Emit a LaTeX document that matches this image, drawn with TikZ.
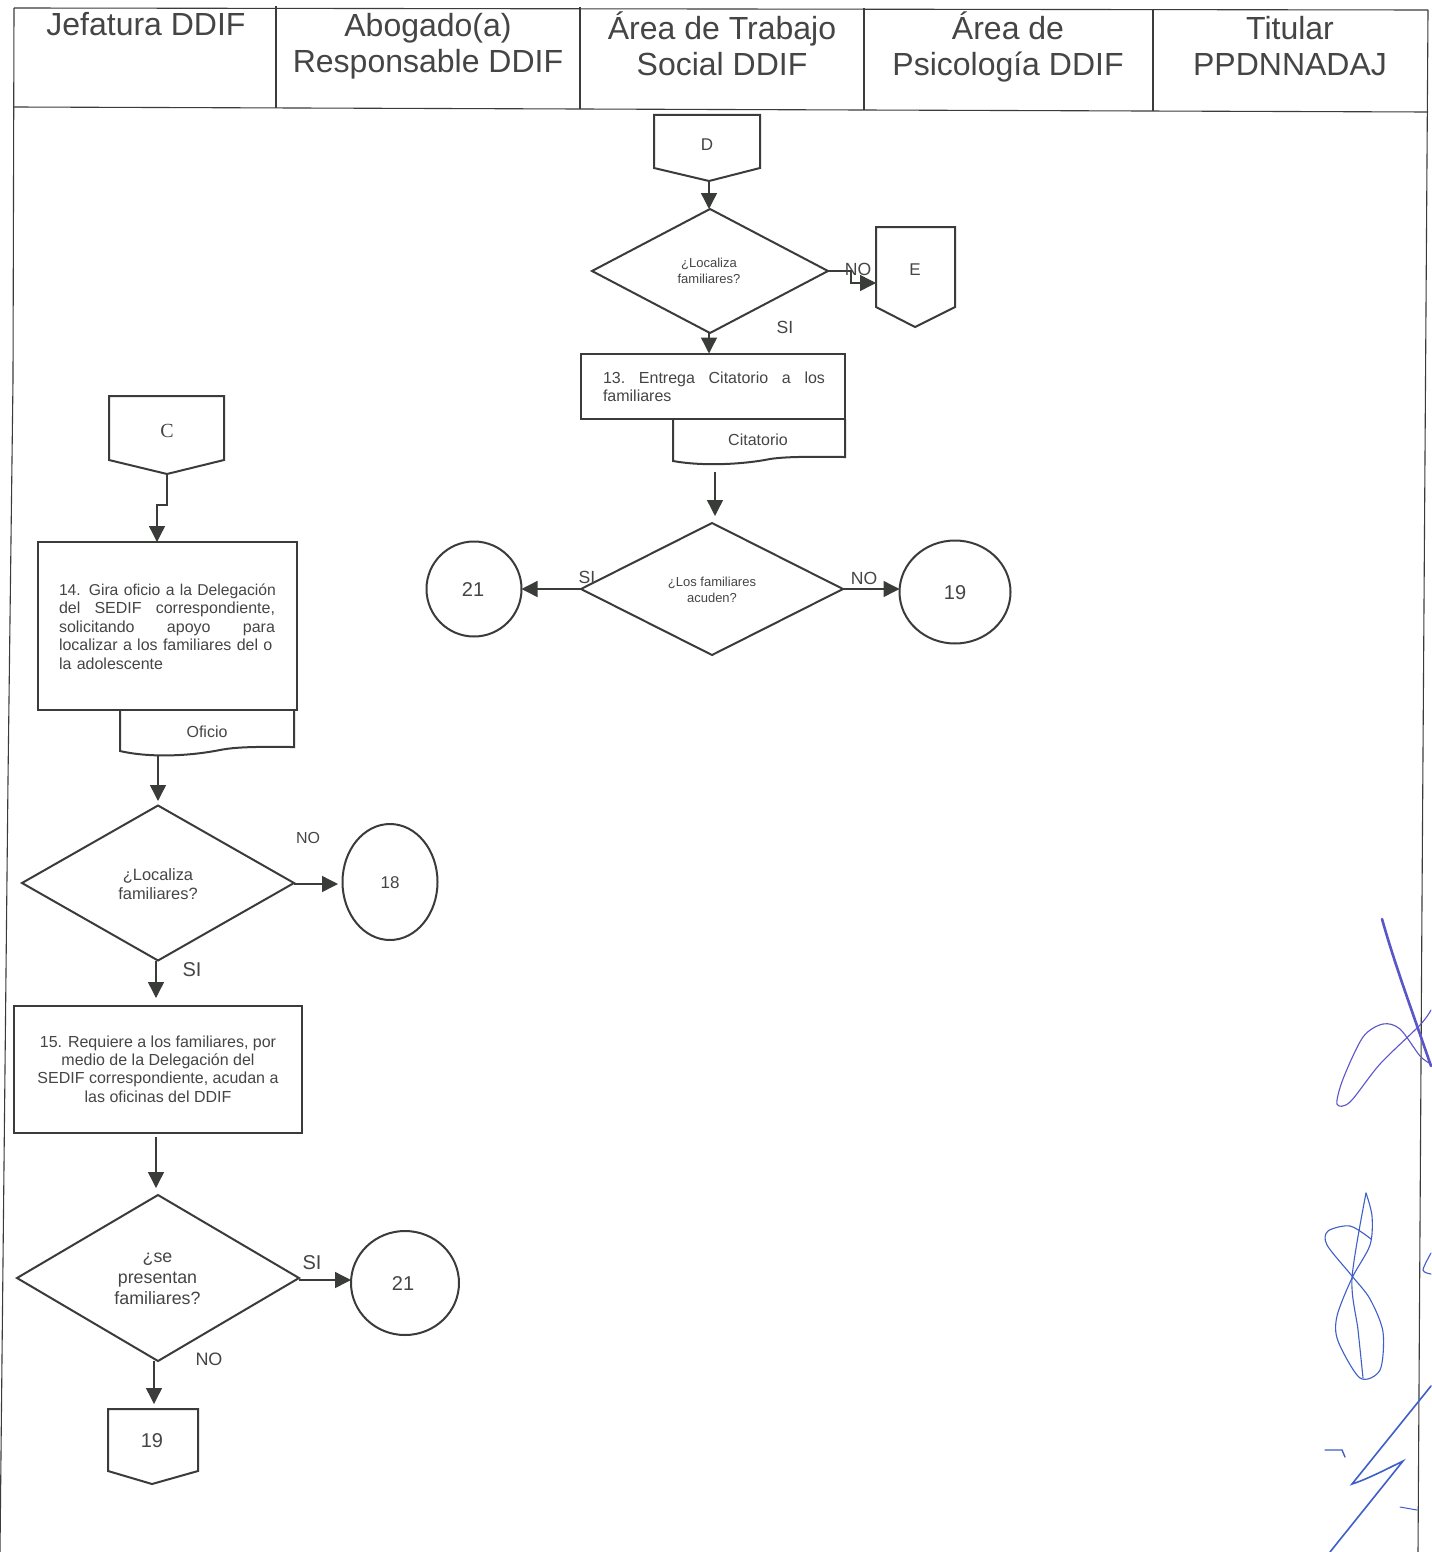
\documentclass[tikz,border=0pt]{standalone}
\usepackage{fontspec}
\setmainfont{Liberation Sans}
\newfontfamily\serifc{Liberation Serif}
\usetikzlibrary{shapes.geometric,arrows.meta}
\definecolor{ink}{HTML}{3A3C3A}
\definecolor{txt}{HTML}{454545}
\definecolor{pen}{HTML}{5A55C8}
\definecolor{penb}{HTML}{3F5FC8}
\tikzset{x=0.5pt,y=-0.5pt,
 every node/.style={text=txt,inner sep=0pt,outer sep=0pt},
 grid/.style={draw=ink,line width=0.55pt},
 shapeline/.style={draw=ink,line width=1pt},
 flow/.style={draw=ink,line width=0.7pt,-{Triangle[length=8pt,width=8pt]}},
 head/.style={font=\fontsize{16}{18}\selectfont,align=center},
 dec/.style={shape=diamond,draw=ink,line width=1pt,align=center,aspect=1},
 small/.style={font=\fontsize{6.5}{7.8}\selectfont,align=center},
 mid/.style={font=\fontsize{8}{9.2}\selectfont,align=center},
 lab/.style={font=\fontsize{8.8}{10}\selectfont},
 num/.style={font=\fontsize{10}{12}\selectfont},
 sig/.style={draw=pen,line width=0.55pt,line cap=round},
 sigb/.style={draw=penb,line width=0.8pt,line cap=round},
}
\newcommand{\dia}[4]{\node[dec,minimum width=#3*0.5pt,minimum height=#4*0.5pt] (#1) at (#2) {};}
\begin{document}
\begin{tikzpicture}
\useasboundingbox (0,0) rectangle (1431,1552);
\fill[white] (0,0) rectangle (1431,1552);
% table
\draw[grid] (14,8) -- (1428,10);
\draw[grid] (14,107) -- (1428,112);
\draw[grid] (14,8) -- (13,380) -- (8,780) -- (0,1552);
\draw[grid] (1428,10) -- (1422,900) -- (1418,1552);
\draw[grid] (276,6) -- (276,108);
\draw[grid] (580,7) -- (580,109);
\draw[grid] (864,8) -- (864,110);
\draw[grid] (1153,9) -- (1153,111);
% header
\node[head] (h1) at (146,24) {Jefatura DDIF};
\node[head] (h2) at (428,46) {Abogado(a)\\Responsable DDIF};
\node[head] (h3) at (722,44) {Área de Trabajo\\Social DDIF};
\node[head] (h4) at (1008,47) {Área de\\Psicología DDIF};
\node[head] (h5) at (1290,46) {Titular\\PPDNNADAJ};
% D
\draw[shapeline] (654,115) -- (760,115) -- (760,168) -- (709,181) -- (654,168) -- cycle;
\coordinate (dtip) at (709,181);
\node[font=\fontsize{8.5}{10}\selectfont] (dl) at (707,145) {D};
\dia{d1}{710,271}{236}{124}
\node[small] (d1t) at (709,271) {¿Localiza\\familiares?};
\draw[flow] (dtip) -- (dtip |- d1.north);
% E
\draw[shapeline] (876,227) -- (955,227) -- (955,307) -- (915,327) -- (876,307) -- cycle;
\coordinate (ein) at (876,283);
\node[font=\fontsize{8.5}{10}\selectfont] (el) at (915,270) {E};
\coordinate (nb1) at (851,271);
\coordinate (nb2) at (851,283);
\draw[flow] (d1.east) -- (nb1) -- (nb2) -- (ein);
\node[lab] (no1) at (858,269) {NO};
\node[lab] (si1) at (785,327) {SI};
% 13
\node[shapeline,minimum width=264*0.5pt,minimum height=65*0.5pt] (b13) at (713,386) {};
\node[font=\fontsize{8}{9.2}\selectfont,text width=111pt,align=left] (b13t) at (714,387) {13.\hfill Entrega\hfill Citatorio\hfill a\hfill los\\familiares};
\draw[flow] (dtip |- d1.south) -- (dtip |- b13.north);
% Citatorio doc
\draw[shapeline] (673,419) -- (673,461) .. controls (700,466) and (740,465) .. (770,459) .. controls (790,456) and (820,457) .. (845,457) -- (845,419);
\node[mid] (citt) at (758,440) {Citatorio};
\coordinate (cit) at (715,472);
\coordinate (d2in) at (715,516);
\dia{d2}{712,589}{262}{132}
\node[small] (d2t) at (712,590) {¿Los familiares\\acuden?};
\draw[flow] (cit) -- (d2in);
\node[shapeline,circle,minimum size=95*0.5pt] (c21a) at (474,589) {};
\node[num] (c21at) at (473,590) {21};
\node[shapeline,ellipse,minimum width=111*0.5pt,minimum height=103*0.5pt] (c19) at (955,592) {};
\node[num] (c19t) at (955,593) {19};
\draw[flow] (d2.west) -- (c21a);
\draw[flow] (d2.east) -- (c19.west |- d2.east);
\node[lab] (si2) at (587,577) {SI};
\node[lab] (no2) at (864,578) {NO};
% C
\draw[shapeline] (109,396) -- (224,396) -- (224,460) -- (167,474) -- (109,460) -- cycle;
\coordinate (ctip) at (167,474);
\node[font=\fontsize{10}{12}\selectfont\serifc] (cl) at (167,431) {C};
% 14
\node[shapeline,minimum width=259*0.5pt,minimum height=168*0.5pt] (b14) at (167,626) {};
\node[font=\fontsize{8}{9.2}\selectfont,text width=108pt,align=left] (b14t) at (167,626.5) {\mbox{\fontsize{7.85}{9.2}\selectfont 14. Gira oficio a la Delegación}\\del\hfill SEDIF\hfill correspondiente,\\solicitando\hfill apoyo\hfill para\\localizar a los familiares del o\\la adolescente};
\coordinate (cb1) at (167,505);
\coordinate (cb2) at (157,505);
\draw[flow] (ctip) -- (cb1) -- (cb2) -- (b14.north -| cb2);
% Oficio doc
\draw[shapeline] (120,711) -- (120,751) .. controls (150,758) and (190,756) .. (220,750) .. controls (240,746) and (270,747) .. (294,747) -- (294,711);
\node[mid] (oft) at (207,732) {Oficio};
\coordinate (of) at (158,756);
\coordinate (d3in) at (158,801);
\dia{d3}{158,883}{272}{155}
\node[mid,font=\fontsize{8.2}{9.6}\selectfont] (d3t) at (158,884) {¿Localiza\\familiares?};
\draw[flow] (of) -- (d3in);
\node[shapeline,ellipse,minimum width=95*0.5pt,minimum height=116*0.5pt] (c18) at (390,882) {};
\node[font=\fontsize{8.5}{10}\selectfont] (c18t) at (390,883) {18};
\coordinate (c18in) at (338,884);
\draw[flow] (d3.east |- c18in) -- (c18in);
\node[mid] (no3) at (308,838) {NO};
\node[font=\fontsize{10}{12}\selectfont] (si3) at (192,970) {SI};
% 15
\node[shapeline,minimum width=288*0.5pt,minimum height=127*0.5pt] (b15) at (157.5,1069) {};
\node[mid] (b15t) at (158,1069) {15. Requiere a los familiares, por\\medio de la Delegación del\\SEDIF correspondiente, acudan a\\las oficinas del DDIF};
\coordinate (b15in) at (156,998);
\draw[flow] (d3.south -| b15in) -- (b15in);
\coordinate (b15o) at (156,1137);
\coordinate (d4in) at (156,1188);
\dia{d4}{158,1278}{282}{166}
\node[font=\fontsize{8.9}{10.6}\selectfont,align=center] (d4t) at (157.5,1279) {¿se\\presentan\\familiares?};
\draw[flow] (b15o) -- (d4in);
\node[shapeline,ellipse,minimum width=108*0.5pt,minimum height=104*0.5pt] (c21b) at (405,1283) {};
\node[num] (c21bt) at (403,1284) {21};
\coordinate (c21in) at (351,1280);
\draw[flow] (d4.east |- c21in) -- (c21in);
\node[font=\fontsize{10}{12}\selectfont] (si4) at (312,1263) {SI};
\node[font=\fontsize{9}{10}\selectfont] (no4) at (209,1359) {NO};
% 19 connector
\draw[shapeline] (108,1409) -- (198,1409) -- (198,1471) -- (152,1484) -- (108,1471) -- cycle;
\coordinate (t19) at (154,1404);
\node[num] (l19) at (152,1441) {19};
\draw[flow] (d4.south -| t19) -- (t19);
% signatures
\draw[pen,line width=1.3pt,line cap=round] (1382,919) .. controls (1395,965) and (1410,1005) .. (1431,1066);
\draw[sig] plot[smooth] coordinates {(1431,1064) (1420,1056) (1400,1029) (1383,1024) (1363,1037) (1343,1079) (1337,1104) (1350,1102) (1380,1064) (1420,1025) (1431,1010)};
\draw[sig,draw=penb] plot[smooth] coordinates {(1366,1193) (1352,1278) (1358,1330) (1363,1378)};
\draw[sig,draw=penb] plot[smooth] coordinates {(1366,1193) (1372,1216) (1370,1245) (1352,1278) (1337,1316) (1338,1341) (1360,1378) (1380,1370) (1383,1332) (1370,1299) (1352,1276) (1327,1245) (1328,1231) (1350,1226) (1371,1239)};
\draw[sig,draw=penb] plot[smooth] coordinates {(1431,1253) (1423,1270) (1431,1274)};
\draw[sigb] (1431,1386) -- (1352,1484) .. controls (1365,1480) and (1385,1470) .. (1403,1461) -- (1330,1552);
\draw[sigb,line width=0.7pt] (1325,1450) -- (1342,1450) -- (1345,1457);
\draw[sigb,line width=0.5pt] (1400,1507) -- (1417,1510);
\end{tikzpicture}
\end{document}
